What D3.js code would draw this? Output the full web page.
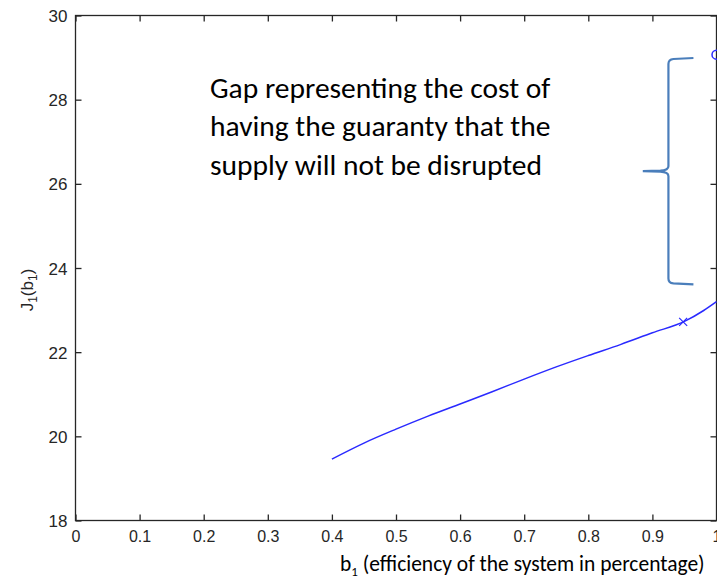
<!DOCTYPE html>
<html>
<head>
<meta charset="utf-8">
<script src="https://cdn.jsdelivr.net/npm/d3@7"></script>
<style>
  body { margin: 0; background: #fff; }
  svg { display: block; }
</style>
</head>
<body>
<div id="chart"></div>
<script>
// curve J1(b1)
const efficiency = [0.40, 0.45, 0.50, 0.55, 0.60, 0.65, 0.70, 0.75, 0.80, 0.85, 0.90, 0.95, 0.98, 1.00];
const cost       = [19.46, 19.84, 20.17, 20.48, 20.77, 21.06, 21.36, 21.65, 21.92, 22.18, 22.46, 22.73, 22.99, 23.20];

// the two marked points
const crossPoint  = [0.948, 22.72];
const circlePoint = [1.0, 29.07];

const xTicks = [0, 0.1, 0.2, 0.3, 0.4, 0.5, 0.6, 0.7, 0.8, 0.9, 1];
const yTicks = [18, 20, 22, 24, 26, 28, 30];

// brace annotation (data units)
const braceX = 0.925, braceTipX = 0.885, braceEndX = 0.964;
const braceTop = 28.99, braceMid = 26.3, braceBottom = 23.61;

const noteLines = [
  "Gap representing the cost of",
  "having the guaranty that the",
  "supply will not be disrupted"
];

const width = 717, height = 581;
const x = d3.scaleLinear().domain([0, 1]).range([75.5, 716.5]);
const y = d3.scaleLinear().domain([18, 30]).range([520.5, 15.5]);

const svg = d3.select("#chart").append("svg")
  .attr("width", width)
  .attr("height", height);

const axisColor = "#262626";
const tickFont = "'Liberation Sans', Arial, sans-serif";

// box
svg.append("rect")
  .attr("x", x(0)).attr("y", y(30))
  .attr("width", x(1) - x(0)).attr("height", y(18) - y(30))
  .attr("fill", "none").attr("stroke", axisColor).attr("stroke-width", 1.3);

// axes
const xAxis = svg.append("g")
  .attr("transform", `translate(0,${y(18)})`)
  .call(d3.axisBottom(x).tickValues(xTicks).tickFormat(d3.format("")).tickSizeInner(-6).tickSizeOuter(0).tickPadding(10));
const xTop = svg.append("g")
  .attr("transform", `translate(0,${y(30)})`)
  .call(d3.axisTop(x).tickValues(xTicks).tickFormat("").tickSizeInner(-6).tickSizeOuter(0));
const yAxis = svg.append("g")
  .attr("transform", `translate(${x(0)},0)`)
  .call(d3.axisLeft(y).tickValues(yTicks).tickSizeInner(-6).tickSizeOuter(0).tickPadding(8));
const yRight = svg.append("g")
  .attr("transform", `translate(${x(1)},0)`)
  .call(d3.axisRight(y).tickValues(yTicks).tickFormat("").tickSizeInner(-6).tickSizeOuter(0));

[xAxis, xTop, yAxis, yRight].forEach(g => {
  g.select(".domain").remove();
  g.selectAll(".tick line").attr("stroke", axisColor).attr("stroke-width", 1.3);
  g.selectAll("text")
    .attr("fill", axisColor)
    .style("font-family", tickFont)
    .style("font-size", "16px");
});
xAxis.selectAll("text").attr("dy", "0.71em");
yAxis.selectAll("text").attr("dy", "0.36em").style("font-size", "17px");

// curve
const pts = efficiency.map((e, i) => [e, cost[i]]);
svg.append("path")
  .datum(pts)
  .attr("fill", "none")
  .attr("stroke", "#2a2aff")
  .attr("stroke-width", 1.5)
  .attr("d", d3.line().x(d => x(d[0])).y(d => y(d[1])).curve(d3.curveMonotoneX));

// cross marker
const cx = x(crossPoint[0]), cy = y(crossPoint[1]);
svg.append("path")
  .attr("d", `M${cx - 4},${cy - 4}L${cx + 4},${cy + 4}M${cx - 4},${cy + 4}L${cx + 4},${cy - 4}`)
  .attr("stroke", "#2a2aff").attr("stroke-width", 1.2);

// circle marker
svg.append("circle")
  .attr("cx", x(circlePoint[0]))
  .attr("cy", y(circlePoint[1]))
  .attr("r", 4.5)
  .attr("fill", "none")
  .attr("stroke", "#2a2aff")
  .attr("stroke-width", 1.5);

// brace
const bx = x(braceX), tipX = x(braceTipX), endX = x(braceEndX);
const bt = y(braceTop), bm = y(braceMid), bb = y(braceBottom);
const bracePath = [
  `M${endX},${bt}`,
  `L${bx + 5},${bt + 1}`,
  `Q${bx},${bt + 1.5} ${bx},${bt + 6}`,
  `L${bx},${bm - 5}`,
  `Q${bx},${bm - 1} ${bx - 8},${bm - 0.5}`,
  `L${tipX},${bm}`,
  `M${tipX},${bm}`,
  `L${bx - 8},${bm + 0.5}`,
  `Q${bx},${bm + 1} ${bx},${bm + 5}`,
  `L${bx},${bb - 6}`,
  `Q${bx},${bb - 1.5} ${bx + 5},${bb - 1}`,
  `L${endX},${bb}`
].join("");
svg.append("path")
  .attr("d", bracePath)
  .attr("fill", "none")
  .attr("stroke", "#4a7ebb")
  .attr("stroke-width", 2.2);

// note
const note = svg.append("text")
  .attr("x", 210)
  .attr("y", 98)
  .attr("fill", "#000")
  .style("font-family", "Carlito, Calibri, Lato, sans-serif")
  .style("font-size", "29.5px");
note.selectAll("tspan")
  .data(noteLines)
  .join("tspan")
  .attr("x", 210)
  .attr("dy", (d, i) => i === 0 ? 0 : 38.3)
  .text(d => d);

// axis labels
const yLab = svg.append("text")
  .attr("transform", `translate(33,290) rotate(-90)`)
  .attr("text-anchor", "middle")
  .attr("fill", axisColor)
  .style("font-family", tickFont)
  .style("font-size", "17px");
yLab.append("tspan").text("J");
yLab.append("tspan").attr("dy", 4).style("font-size", "12px").text("1");
yLab.append("tspan").attr("dy", -4).text("(b");
yLab.append("tspan").attr("dy", 4).style("font-size", "12px").text("1");
yLab.append("tspan").attr("dy", -4).text(")");

const xLab = svg.append("text")
  .attr("x", 340)
  .attr("y", 571)
  .attr("fill", "#000")
  .style("font-family", "Carlito, Calibri, Lato, sans-serif")
  .style("font-size", "21.5px");
xLab.append("tspan").text("b");
xLab.append("tspan").attr("dy", 5).style("font-size", "13px").text("1");
xLab.append("tspan").attr("dy", -5).text(" (efficiency of the system in percentage)");
</script>
</body>
</html>
